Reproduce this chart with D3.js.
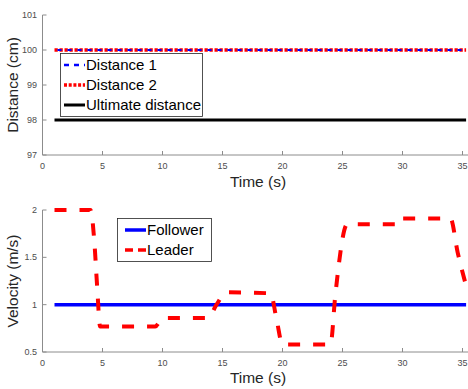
<!DOCTYPE html>
<html>
<head>
<meta charset="utf-8">
<script src="https://cdn.jsdelivr.net/npm/d3@7"></script>
<style>
  body { margin: 0; background: #fff; }
  svg { display: block; font-family: "Liberation Sans", Arial, sans-serif; }
</style>
</head>
<body>
<svg id="chart" width="468" height="389"></svg>
<script>
// Time axis shared by both panels
const timeDomain = [0, 35.5];
const timeTicks = [0, 5, 10, 15, 20, 25, 30, 35];

// Top panel: inter-vehicle distances
const distTicks = [97, 98, 99, 100, 101];
const distTime = [1, 35.3];
const distance1 = [100, 100];
const distance2 = [100, 100];
const ultimateDistance = [98, 98];

// Bottom panel: velocities
const velTicks = [0.5, 1, 1.5, 2];
const followerTime = [1, 35.3];
const followerVel = [1, 1];
const leaderTime = [1, 4, 4.3, 4.55, 4.8, 9.4, 10, 13.8, 14.5, 15.3, 19, 19.5, 20, 24, 24.4, 25.4, 29.9, 30, 34, 34.6, 35.3];
const leaderVel  = [2, 2, 1.7, 1.2, 0.77, 0.77, 0.86, 0.86, 1.0, 1.13, 1.12, 0.85, 0.58, 0.58, 1.1, 1.85, 1.85, 1.91, 1.91, 1.55, 1.2];

const svg = d3.select("#chart");
const axisColor = "#262626";
const tickColor = "#4d4d4d";

const x = d3.scaleLinear().domain(timeDomain).range([42.5, 468.5]);

function drawAxes(y, ticks, yLabel, yLabelY, xLabelY, fmt) {
  const g = svg.append("g");
  const [y0] = y.range();
  // left and bottom spines
  g.append("line").attr("x1", 42.5).attr("x2", 42.5).attr("y1", y.range()[0]).attr("y2", y.range()[1])
    .attr("stroke", "#8c8c8c").attr("stroke-width", 1);
  g.append("line").attr("x1", 42.5).attr("x2", 468).attr("y1", y0).attr("y2", y0)
    .attr("stroke", "#8c8c8c").attr("stroke-width", 1);
  // y ticks (pointing inward)
  ticks.forEach(t => {
    g.append("line").attr("x1", 42.5).attr("x2", 46.5).attr("y1", y(t)).attr("y2", y(t))
      .attr("stroke", "#8c8c8c");
    g.append("text").attr("x", 37).attr("y", y(t)).attr("dy", "0.35em")
      .attr("text-anchor", "end").attr("font-size", 9).attr("fill", tickColor).text(fmt(t));
  });
  // x ticks (pointing inward)
  timeTicks.forEach(t => {
    g.append("line").attr("x1", x(t)).attr("x2", x(t)).attr("y1", y0).attr("y2", y0 - 4)
      .attr("stroke", "#8c8c8c");
    g.append("text").attr("x", x(t)).attr("y", y0 + 11).attr("dy", "0.35em")
      .attr("text-anchor", "middle").attr("font-size", 9).attr("fill", tickColor).text(t);
  });
  g.append("text").attr("transform", `translate(18,${yLabelY}) rotate(-90)`)
    .attr("text-anchor", "middle").attr("font-size", 15.5).attr("fill", axisColor).text(yLabel);
  g.append("text").attr("x", 258).attr("y", xLabelY).attr("dy", "0.35em")
    .attr("text-anchor", "middle").attr("font-size", 15.5).attr("fill", axisColor).text("Time (s)");
}

// ---------- Top panel ----------
const yDist = d3.scaleLinear().domain([97, 101]).range([155, 15]);
drawAxes(yDist, distTicks, "Distance (cm)", 85, 182, d => d);

const lineOf = (xs, ys, ysc) => d3.line().x((d, i) => x(xs[i])).y(d => ysc(d))(ys);

svg.append("path").attr("d", lineOf(distTime, ultimateDistance, yDist))
  .attr("fill", "none").attr("stroke", "#000").attr("stroke-width", 3);
svg.append("path").attr("d", lineOf(distTime, distance2, yDist))
  .attr("fill", "none").attr("stroke", "#ff0000").attr("stroke-width", 3.5)
  .attr("stroke-dasharray", "3.3,1.7");
svg.append("path").attr("d", lineOf(distTime, distance1, yDist))
  .attr("fill", "none").attr("stroke", "#0000ff").attr("stroke-width", 2)
  .attr("stroke-dasharray", "4,6").attr("stroke-dashoffset", -3);

// top legend
const lg1 = svg.append("g");
lg1.append("rect").attr("x", 60.5).attr("y", 53.5).attr("width", 142).attr("height", 63)
  .attr("fill", "#fff").attr("stroke", "#262626").attr("stroke-width", 0.8);
const legend1 = [
  { label: "Distance 1", color: "#0000ff", dash: "5,5", w: 2.5 },
  { label: "Distance 2", color: "#ff0000", dash: "3,1.7", w: 3.5 },
  { label: "Ultimate distance", color: "#000", dash: null, w: 3 }
];
legend1.forEach((d, i) => {
  const yy = 65 + i * 20;
  lg1.append("line").attr("x1", 64).attr("x2", 85).attr("y1", yy).attr("y2", yy)
    .attr("stroke", d.color).attr("stroke-width", d.w).attr("stroke-dasharray", d.dash);
  lg1.append("text").attr("x", 86).attr("y", yy).attr("dy", "0.35em")
    .attr("font-size", 15).attr("fill", "#000").text(d.label);
});

// ---------- Bottom panel ----------
const yVel = d3.scaleLinear().domain([0.5, 2]).range([352, 210]);
drawAxes(yVel, velTicks, "Velocity (m/s)", 281, 378, d => d);

svg.append("path").attr("d", lineOf(followerTime, followerVel, yVel))
  .attr("fill", "none").attr("stroke", "#0000ff").attr("stroke-width", 3.5);
const leaderLine = d3.line().curve(d3.curveMonotoneX)
  .x((d, i) => x(leaderTime[i])).y(d => yVel(d));
svg.append("path").attr("d", leaderLine(leaderVel))
  .attr("fill", "none").attr("stroke", "#ff0000").attr("stroke-width", 4)
  .attr("stroke-dasharray", "12,13");

// bottom legend
const lg2 = svg.append("g");
lg2.append("rect").attr("x", 117.5).attr("y", 218.5).attr("width", 94).attr("height", 43)
  .attr("fill", "#fff").attr("stroke", "#262626").attr("stroke-width", 0.8);
const legend2 = [
  { label: "Follower", color: "#0000ff", dash: null },
  { label: "Leader", color: "#ff0000", dash: "8,5" }
];
legend2.forEach((d, i) => {
  const yy = 230 + i * 20;
  lg2.append("line").attr("x1", 125).attr("x2", 146).attr("y1", yy).attr("y2", yy)
    .attr("stroke", d.color).attr("stroke-width", 3.5).attr("stroke-dasharray", d.dash);
  lg2.append("text").attr("x", 147).attr("y", yy).attr("dy", "0.35em")
    .attr("font-size", 15).attr("fill", "#000").text(d.label);
});
</script>
</body>
</html>
